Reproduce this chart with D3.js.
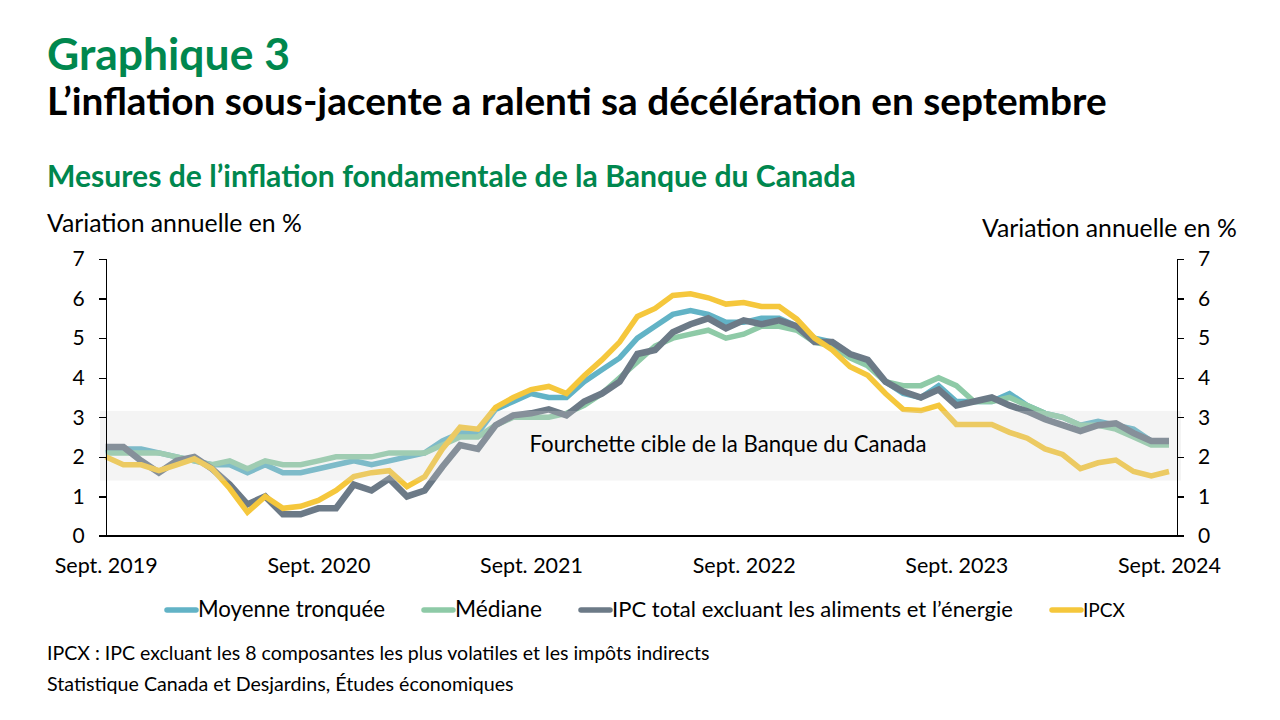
<!DOCTYPE html>
<meta charset="utf-8">
<style>
html,body {
  margin: 0px;
  padding: 0px;
  overflow: hidden;
  background-color: white;
}
text {
  font-family: Lato, "Open Sans", sans-serif;
}
.axis path, .axis line {
  stroke: black;
  stroke-width: 1.3px;
  shape-rendering: crispEdges;
}
.axis text {
  fill: black;
}
.serie {
  fill: none;
  stroke-linejoin: miter;
}
</style>
<body>
<svg></svg>
</body>
<script src="https://cdnjs.cloudflare.com/ajax/libs/d3/7.8.5/d3.min.js"></script>
<script>

// mois : sept. 2019 a sept. 2024 (61 observations)
var xLabels = ["Sept. 2019", "Sept. 2020", "Sept. 2021", "Sept. 2022", "Sept. 2023", "Sept. 2024"];
var xLabelIdx = [0, 12, 24, 36, 48, 60];
var yTicks = [0, 1, 2, 3, 4, 5, 6, 7];

var moyenne = [2.1, 2.2, 2.2, 2.1, 2.0, 1.9, 1.8, 1.8, 1.6, 1.8, 1.6, 1.6, 1.7,
  1.8, 1.9, 1.8, 1.9, 2.0, 2.1, 2.4, 2.6, 2.6, 3.2, 3.4, 3.6, 3.5, 3.5, 3.9, 4.2,
  4.5, 5.0, 5.3, 5.6, 5.7, 5.6, 5.4, 5.4, 5.5, 5.5, 5.3, 5.0, 4.9, 4.6, 4.4, 3.9,
  3.6, 3.5, 3.8, 3.4, 3.4, 3.4, 3.6, 3.3, 3.1, 3.0, 2.8, 2.9, 2.8, 2.7, 2.4, 2.4];

var mediane = [2.1, 2.1, 2.1, 2.1, 2.0, 1.9, 1.8, 1.9, 1.7, 1.9, 1.8, 1.8, 1.9,
  2.0, 2.0, 2.0, 2.1, 2.1, 2.1, 2.3, 2.5, 2.5, 2.8, 3.0, 3.0, 3.0, 3.1, 3.3, 3.6,
  4.0, 4.4, 4.8, 5.0, 5.1, 5.2, 5.0, 5.1, 5.3, 5.3, 5.2, 4.9, 4.8, 4.5, 4.3, 3.9,
  3.8, 3.8, 4.0, 3.8, 3.4, 3.4, 3.5, 3.3, 3.1, 3.0, 2.8, 2.8, 2.7, 2.5, 2.3, 2.3];

var horsAE = [2.25, 2.25, 1.9, 1.6, 1.9, 2.0, 1.7, 1.3, 0.8, 1.0, 0.55, 0.55, 0.7,
  0.7, 1.3, 1.15, 1.45, 1.0, 1.15, 1.75, 2.3, 2.2, 2.8, 3.05, 3.1, 3.2, 3.05, 3.4, 3.6,
  3.9, 4.6, 4.7, 5.15, 5.35, 5.5, 5.25, 5.45, 5.35, 5.45, 5.3, 4.9, 4.9, 4.6, 4.45, 3.9,
  3.65, 3.5, 3.7, 3.3, 3.4, 3.5, 3.3, 3.15, 2.95, 2.8, 2.65, 2.8, 2.85, 2.6, 2.4, 2.4];

var ipcx = [2.0, 1.8, 1.8, 1.65, 1.8, 1.95, 1.7, 1.2, 0.6, 1.0, 0.7, 0.75, 0.9,
  1.15, 1.5, 1.6, 1.65, 1.25, 1.5, 2.2, 2.75, 2.7, 3.25, 3.5, 3.7, 3.78, 3.6, 4.05, 4.45,
  4.9, 5.55, 5.75, 6.08, 6.12, 6.02, 5.86, 5.9, 5.8, 5.8, 5.48, 5.0, 4.7, 4.28, 4.06, 3.6,
  3.2, 3.17, 3.3, 2.82, 2.82, 2.82, 2.62, 2.47, 2.2, 2.06, 1.7, 1.85, 1.92, 1.63, 1.52, 1.63];

var series = [
  {nom: "Moyenne tronquée", valeurs: moyenne, couleur: "#62b3c6", epais: 5.5, leg: 187},
  {nom: "Médiane", valeurs: mediane, couleur: "#8ecaa7", epais: 5.5, leg: 87},
  {nom: "IPC total excluant les aliments et l’énergie", valeurs: horsAE, couleur: "#6c7a87", epais: 6.5, leg: 401},
  {nom: "IPCX", valeurs: ipcx, couleur: "#f5c73c", epais: 5.5, leg: 42}
];

// fourchette cible (bande grise)
var bandeBas = 1.4, bandeHaut = 3.16;

var vert = "#00874e";
var svg = d3.select("svg").attr("width", 1280).attr("height", 720);

// ajuste la taille de police pour obtenir une largeur donnee
function ajuste(sel, largeur) {
  var fs = parseFloat(sel.style("font-size"));
  var w = sel.node().getComputedTextLength();
  sel.style("font-size", (fs * largeur / w) + "px");
  return sel;
}

function texte(x0, y0, fs, txt) {
  return svg.append("text").attr("x", x0).attr("y", y0)
    .style("font-size", fs + "px").text(txt);
}

ajuste(texte(47, 70, 40, "Graphique 3").attr("font-weight", "bold").attr("fill", vert), 243);
ajuste(texte(47, 115, 34, "L’inflation sous-jacente a ralenti sa décélération en septembre")
  .attr("font-weight", "bold"), 1060);
ajuste(texte(47, 187, 26, "Mesures de l’inflation fondamentale de la Banque du Canada")
  .attr("font-weight", "bold").attr("fill", vert), 809);
ajuste(texte(47, 232, 21, "Variation annuelle en %"), 255);
ajuste(texte(982, 237, 21, "Variation annuelle en %"), 255);

var x = d3.scaleLinear().domain([0, 60]).range([105.7, 1169]);
var y = d3.scaleLinear().domain([0, 7]).range([536, 259]);
var xDroite = 1177;

var line = d3.line()
  .x(function(d, i) { return x(i); })
  .y(function(d) { return y(d); });

svg.selectAll(".serie")
  .data(series)
  .enter().append("path")
  .attr("class", "serie")
  .attr("d", function(s) { return line(s.valeurs); })
  .attr("stroke", function(s) { return s.couleur; })
  .attr("stroke-width", function(s) { return s.epais; });

// bande par-dessus les courbes, semi-transparente
svg.append("rect")
  .attr("x", 100).attr("width", 1181 - 100)
  .attr("y", y(bandeHaut)).attr("height", y(bandeBas) - y(bandeHaut))
  .attr("fill", "rgb(211,211,211)").attr("fill-opacity", 0.25);

ajuste(texte(728, 452, 20, "Fourchette cible de la Banque du Canada")
  .attr("text-anchor", "middle"), 397);

var fmt = d3.format("d");

svg.append("g").attr("class", "axis")
  .attr("transform", "translate(105.7,0)")
  .call(d3.axisLeft(y).tickValues(yTicks).tickFormat(fmt).tickSize(7).tickPadding(14))
  .selectAll("text").style("font-size", "21px");

svg.append("g").attr("class", "axis")
  .attr("transform", "translate(" + xDroite + ",0)")
  .call(d3.axisRight(y).tickValues(yTicks).tickFormat(fmt).tickSize(7).tickPadding(14))
  .selectAll("text").style("font-size", "21px");

svg.append("line")
  .attr("x1", 98.7).attr("x2", xDroite + 7)
  .attr("y1", y(0)).attr("y2", y(0))
  .attr("stroke", "black").attr("stroke-width", 1.3)
  .attr("shape-rendering", "crispEdges");

var xAxe = svg.append("g").attr("class", "axis")
  .attr("transform", "translate(0," + y(0) + ")")
  .call(d3.axisBottom(x).tickValues(xLabelIdx).tickSize(0).tickPadding(22)
    .tickFormat(function(d, i) { return xLabels[i]; }));
xAxe.select(".domain").remove();
xAxe.selectAll("text").style("font-size", "20px")
  .each(function() { ajuste(d3.select(this), 103); });

// legende
var lx = 165, ly = 610;
series.forEach(function(s) {
  svg.append("line")
    .attr("x1", lx + 2).attr("x2", lx + 31)
    .attr("y1", ly).attr("y2", ly)
    .attr("stroke", s.couleur).attr("stroke-width", 5.5)
    .attr("stroke-linecap", "round");
  ajuste(texte(lx + 33, ly + 7, 20, s.nom), s.leg);
  lx = lx + 33 + s.leg + 37;
});

ajuste(texte(47, 660, 17, "IPCX : IPC excluant les 8 composantes les plus volatiles et les impôts indirects"), 663);
ajuste(texte(47, 691, 17, "Statistique Canada et Desjardins, Études économiques"), 467);

</script>
